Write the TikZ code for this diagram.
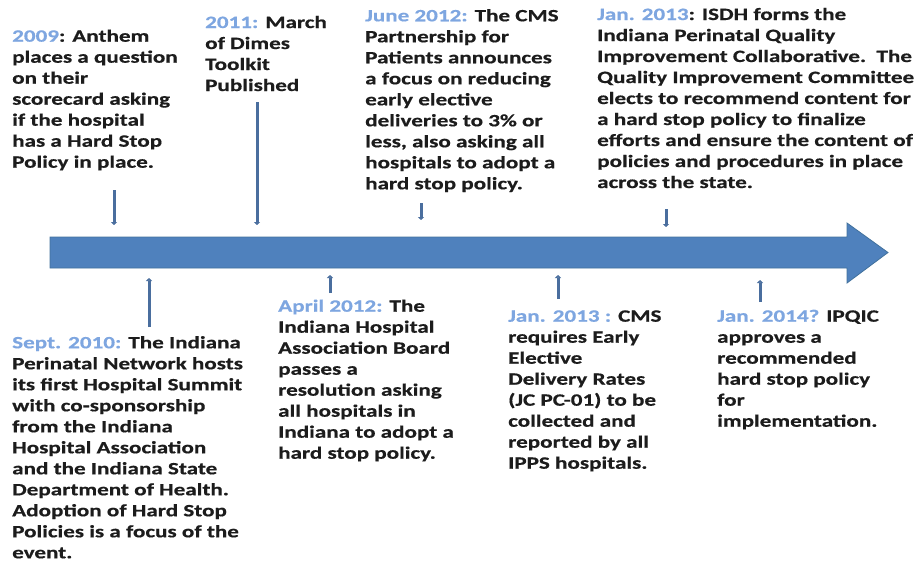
\documentclass[tikz,border=0pt]{standalone}
\usepackage{fontspec}
\setmainfont{Carlito}[FakeStretch=1.335]
\usetikzlibrary{arrows.meta}
\definecolor{barblue}{HTML}{4F81BD}
\definecolor{baredge}{HTML}{41719C}
\definecolor{datecol}{HTML}{7EA6E0}
\definecolor{txt}{HTML}{1C1C1C}
\definecolor{tick}{HTML}{4A6E9E}
\newcommand{\dt}[1]{{\color{datecol}#1}}
\newcommand{\evlines}[1]{\begin{tabular}[t]{@{}l@{}}#1\end{tabular}}
\tikzset{
  event/.style={anchor=base west, inner sep=0pt, text=txt,
    font=\fontsize{17.3}{21}\bfseries\addfontfeature{FakeBold=0.6}\selectfont},
  tickdown/.style={draw=tick, line width=3pt, -{Triangle[width=6pt,length=3pt]}},
  tickup/.style={draw=tick, line width=3pt, -{Triangle[width=6pt,length=3pt]}},
}
\begin{document}
\begin{tikzpicture}[x=1pt,y=-1pt]
\path[use as bounding box] (0,0) rectangle (917,565);
% timeline arrow
\draw[fill=barblue, draw=baredge, line width=0.8pt]
  (50,237) -- (847,237) -- (847,223) -- (888,252.5) -- (847,283) -- (847,268) -- (50,268) -- cycle;
% events above the timeline
\node[event] (e2009) at (12,41.7) {\evlines{\dt{2009}: Anthem\\places a question\\on their\\scorecard asking\\if the hospital\\has a Hard Stop\\Policy in place.}};
\node[event] (e2011) at (205,28) {\evlines{\dt{2011:} March\\of Dimes\\Toolkit\\Published}};
\node[event] (e2012b) at (365,21.3) {\evlines{\dt{June 2012:} The CMS\\Partnership for\\Patients announces\\a focus on reducing\\early elective\\deliveries to 3\% or\\less, also asking all\\hospitals to adopt a\\hard stop policy.}};
\node[event] (e2013a) at (597,20) {\evlines{\dt{Jan. 2013}: ISDH forms the\\Indiana Perinatal Quality\\Improvement Collaborative.\ \ The\\Quality Improvement Committee\\elects to recommend content for\\a hard stop policy to finalize\\efforts and ensure the content of\\policies and procedures in place\\across the state.}};
% events below the timeline
\node[event] (e2010) at (12,348.3) {\evlines{\dt{Sept. 2010:} The Indiana\\Perinatal Network hosts\\its first Hospital Summit\\with co-sponsorship\\from the Indiana\\Hospital Association\\and the Indiana State\\Department of Health.\\Adoption of Hard Stop\\Policies is a focus of the\\event.}};
\node[event] (e2012a) at (278,311.7) {\evlines{\dt{April 2012:} The\\Indiana Hospital\\Association Board\\passes a\\resolution asking\\all hospitals in\\Indiana to adopt a\\hard stop policy.}};
\node[event] (e2013b) at (508,321.7) {\evlines{\dt{Jan. 2013 :} CMS\\requires Early\\Elective\\Delivery Rates\\(JC PC-01) to be\\collected and\\reported by all\\IPPS hospitals.}};
\node[event] (e2014) at (717,321.7) {\evlines{\dt{Jan. 2014?} IPQIC\\approves a\\recommended\\hard stop policy\\for\\implementation.}};
% tick arrows
\coordinate (t1a) at (114,190); \coordinate (t1b) at (114,225);
\coordinate (t2a) at (257,102); \coordinate (t2b) at (257,225);
\coordinate (t3a) at (421,203); \coordinate (t3b) at (421,220);
\coordinate (t4a) at (666,209); \coordinate (t4b) at (666,227);
\coordinate (b1a) at (149,327); \coordinate (b1b) at (149,278);
\coordinate (b2a) at (330,293); \coordinate (b2b) at (330,275);
\coordinate (b3a) at (558,299); \coordinate (b3b) at (558,275);
\coordinate (b4a) at (760,302); \coordinate (b4b) at (760,280);
\draw[tickdown] (t1a) -- (t1b);
\draw[tickdown] (t2a) -- (t2b);
\draw[tickdown] (t3a) -- (t3b);
\draw[tickdown] (t4a) -- (t4b);
\draw[tickup] (b1a) -- (b1b);
\draw[tickup] (b2a) -- (b2b);
\draw[tickup] (b3a) -- (b3b);
\draw[tickup] (b4a) -- (b4b);
\end{tikzpicture}
\end{document}
